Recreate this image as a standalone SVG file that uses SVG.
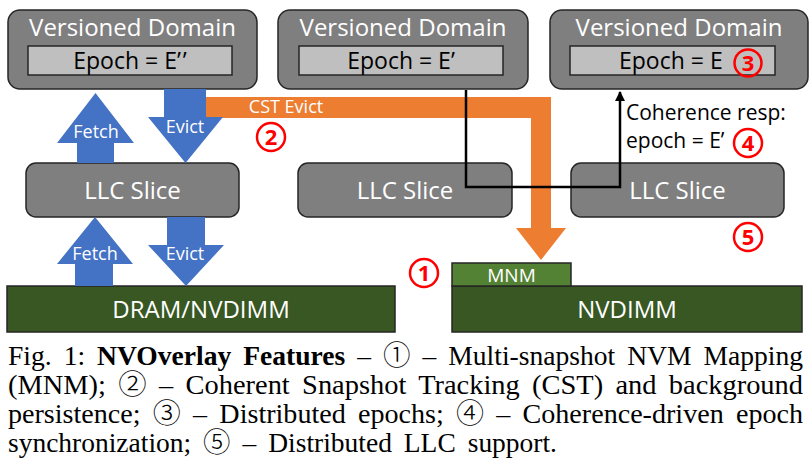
<svg xmlns="http://www.w3.org/2000/svg" width="812" height="470" viewBox="0 0 812 470">
<defs>
<style>
.vd{fill:#7f7f7f;stroke:#262626;stroke-width:1.5}
.ep{fill:#bfbfbf;stroke:#262626;stroke-width:1.5}
.llc{fill:#7f7f7f;stroke:#262626;stroke-width:1.5}
.mem{fill:#385723;stroke:#262626;stroke-width:1.5}
.mnm{fill:#548235;stroke:#262626;stroke-width:1.5}
.sans{font-family:"Open Sans","Liberation Sans",sans-serif}
.wt{fill:#ffffff;text-anchor:middle}
.bk{fill:#000000}
.t24{font-size:24px}
.t22{font-size:23px}
.lbl{font-size:18px;fill:#ffffff;text-anchor:middle}
.blue{fill:#4472c4}
.orange{fill:#ed7d31}
.rc{fill:none;stroke:#ff0000;stroke-width:2.5}
.rd{fill:#ff0000;font-family:"Open Sans","Liberation Sans",sans-serif;font-weight:bold;font-size:22px;text-anchor:middle}
.cap{font-family:"Liberation Serif","Times New Roman",serif;font-size:27px;fill:#000;word-spacing:5px}
.cd{font-family:"Noto Sans CJK JP","DejaVu Sans",sans-serif;font-weight:300}
</style>
<marker id="ah" viewBox="0 0 10 10" refX="9" refY="5" markerWidth="4" markerHeight="4.5" orient="auto" markerUnits="strokeWidth">
<path d="M0,0 L10,5 L0,10 z" fill="#000"/>
</marker>
</defs>
<rect width="812" height="470" fill="#ffffff"/>

<g id="vd1">
<rect class="vd" x="8" y="10" width="249" height="79" rx="12"/>
<text class="sans wt t24" x="132.5" y="36">Versioned Domain</text>
<rect class="ep" x="28" y="46" width="204" height="29"/>
<text class="sans t22 bk" x="130" y="69" text-anchor="middle">Epoch = E’<tspan dx="2">’</tspan></text>
</g>
<g id="vd2">
<rect class="vd" x="278" y="10" width="250" height="79" rx="12"/>
<text class="sans wt t24" x="403" y="36">Versioned Domain</text>
<rect class="ep" x="299" y="46" width="204" height="29"/>
<text class="sans t22 bk" x="401" y="69" text-anchor="middle">Epoch = E’</text>
</g>
<g id="vd3">
<rect class="vd" x="550" y="10" width="258" height="79" rx="12"/>
<text class="sans wt t24" x="679" y="36">Versioned Domain</text>
<rect class="ep" x="570" y="46" width="205" height="29"/>
<text class="sans t22 bk" x="619" y="69">Epoch = E</text>
</g>

<g id="llc1">
<rect class="llc" x="26" y="163" width="213" height="54" rx="10"/>
<text class="sans wt t24" x="132.5" y="199">LLC Slice</text>
</g>
<g id="llc2">
<rect class="llc" x="298" y="163" width="214" height="54" rx="10"/>
<text class="sans wt t24" x="405" y="199">LLC Slice</text>
</g>
<g id="llc3">
<rect class="llc" x="571" y="163" width="213" height="54" rx="10"/>
<text class="sans wt t24" x="677.5" y="199">LLC Slice</text>
</g>

<g id="dram">
<rect class="mem" x="7" y="286" width="388" height="46"/>
<text class="sans wt t24" x="201" y="318">DRAM/NVDIMM</text>
</g>
<g id="nvdimm">
<rect class="mem" x="452" y="286" width="350" height="46"/>
<text class="sans wt t24" x="627" y="318">NVDIMM</text>
</g>
<g id="mnm">
<rect class="mnm" x="452" y="263" width="119" height="23"/>
<text class="sans wt" x="511.5" y="282" font-size="19">MNM</text>
</g>

<g id="connectors">
<polygon class="orange" points="206,97 551,97 551,228 566,228 541,260 516,228 531,228 531,118 206,118"/>
<text class="sans lbl" x="286" y="113">CST Evict</text>
<polygon class="blue" points="95.5,93 134,143 114,143 114,163 77,163 77,143 57,143"/>
<text class="sans lbl" x="96" y="138">Fetch</text>
<polygon class="blue" points="164,89 206,89 206,117 223,117 185.5,163 148,117 164,117"/>
<text class="sans lbl" x="185" y="133">Evict</text>
<polygon class="blue" points="95,217 133,264 113,264 113,286 75,286 75,264 57,264"/>
<text class="sans lbl" x="95" y="260">Fetch</text>
<polygon class="blue" points="167,217 205,217 205,245 224,245 186,286 148,245 167,245"/>
<text class="sans lbl" x="185" y="260">Evict</text>
<path d="M466,90 V187 H620 V92" fill="none" stroke="#000" stroke-width="2.5" marker-end="url(#ah)"/>
<text class="sans bk" x="626" y="120" font-size="21">Coherence resp:</text>
<text class="sans bk" x="626" y="148" font-size="21">epoch = E’</text>
</g>

<g id="markers">
<circle class="rc" cx="424" cy="273" r="14"/><text class="rd" x="424" y="281">1</text>
<circle class="rc" cx="271" cy="137" r="14"/><text class="rd" x="271" y="145">2</text>
<circle class="rc" cx="748" cy="63" r="13.5"/><text class="rd" x="748" y="71">3</text>
<circle class="rc" cx="748" cy="143" r="14"/><text class="rd" x="748" y="151">4</text>
<circle class="rc" cx="748" cy="237" r="14"/><text class="rd" x="748" y="245">5</text>
</g>

<g id="caption">
<text class="cap" x="8" y="365" textLength="795" lengthAdjust="spacingAndGlyphs">Fig. 1: <tspan font-weight="bold">NVOverlay Features</tspan> – <tspan class="cd">①</tspan> – Multi-snapshot NVM Mapping</text>
<text class="cap" x="8" y="394" textLength="795" lengthAdjust="spacingAndGlyphs">(MNM); <tspan class="cd">②</tspan> – Coherent Snapshot Tracking (CST) and background</text>
<text class="cap" x="8" y="423" textLength="795" lengthAdjust="spacingAndGlyphs">persistence; <tspan class="cd">③</tspan> – Distributed epochs; <tspan class="cd">④</tspan> – Coherence-driven epoch</text>
<text class="cap" x="8" y="452" textLength="549" lengthAdjust="spacingAndGlyphs">synchronization; <tspan class="cd">⑤</tspan> – Distributed LLC support.</text>
</g>
</svg>
